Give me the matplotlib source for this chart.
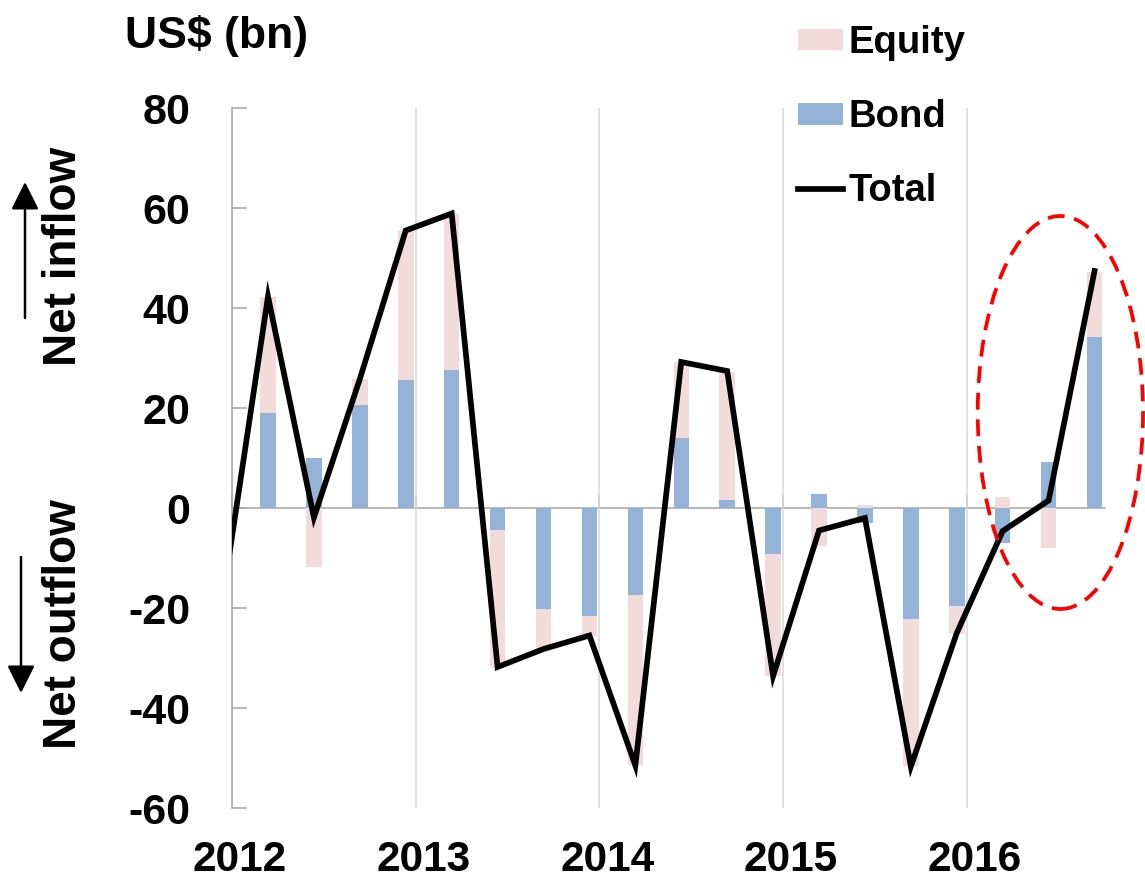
import matplotlib
matplotlib.use("Agg")
import matplotlib.pyplot as plt
from matplotlib.patches import Ellipse, FancyArrowPatch
from matplotlib.transforms import ScaledTranslation
import numpy as np

plt.rcParams['font.family'] = ['Liberation Sans', 'DejaVu Sans']
plt.rcParams['font.weight'] = 'bold'

# ---- data ----
quarters = ['2012Q1', '2012Q2', '2012Q3', '2012Q4',
            '2013Q1', '2013Q2', '2013Q3', '2013Q4',
            '2014Q1', '2014Q2', '2014Q3', '2014Q4',
            '2015Q1', '2015Q2', '2015Q3', '2015Q4',
            '2016Q1', '2016Q2', '2016Q3']
bond = [19.0, 10.1, 20.7, 25.6, 27.6, -4.4, -20.2, -21.6, -17.4, 14.1,
        1.6, -9.1, 2.8, -2.9, -22.2, -19.6, -6.9, 9.3, 34.3]
equity = [23.3, -11.8, 5.1, 29.9, 31.3, -27.4, -7.9, -4.0, -34.0, 15.1,
          25.6, -24.4, -7.5, 0.6, -29.4, -5.6, 2.2, -7.9, 13.0]
total_quarters = ['2011Q4'] + quarters
total = [-19.0, 42.3, -1.9, 25.8, 55.5, 58.9, -31.8, -28.2, -25.5, -51.5,
         29.2, 27.4, -33.6, -4.5, -2.0, -51.7, -25.0, -4.6, 1.5, 47.4]
years = [2012, 2013, 2014, 2015, 2016]
yticks = [-60, -40, -20, 0, 20, 40, 60, 80]

EQ_COLOR = '#F2DCDB'
BOND_COLOR = '#95B3D7'
GRAY = '#A6A6A6'


def qpos(q):
    return int(q[:4]) + (int(q[-1]) - 1) * 0.25 + 0.196


x = np.array([qpos(q) for q in quarters])
xt = np.array([qpos(q) for q in total_quarters])
bond_a = np.array(bond)
eq_a = np.array(equity)
eq_bottom = np.where(np.sign(eq_a) == np.sign(bond_a), bond_a, 0.0)

W, H = 1145, 882
fig = plt.figure(figsize=(W / 100, H / 100), dpi=100)
ax = fig.add_axes([232 / W, 74 / H, (1105 - 232) / W, 700 / H])

bw = 0.0844
ax.bar(x, bond_a, width=bw, color=BOND_COLOR, zorder=2, label='Bond')
ax.bar(x, eq_a, width=bw, bottom=eq_bottom, color=EQ_COLOR, zorder=2, label='Equity')
ax.plot(xt, total, color='black', lw=4.1, solid_joinstyle='miter', zorder=4, label='Total')

ax.set_xlim(2012, 2016.753)
ax.set_ylim(-60, 80)

# spines
for s in ['top', 'right', 'bottom']:
    ax.spines[s].set_visible(False)
ax.spines['left'].set_color(GRAY)
ax.spines['left'].set_linewidth(1.1)

# y ticks
ax.set_yticks(yticks)
ax.set_yticklabels([str(v) for v in yticks])
ax.tick_params(axis='y', direction='in', length=10.8, width=1.1, color=GRAY,
               labelsize=31, pad=30)

# x ticks (labels at bottom)
ax.set_xticks(years)
ax.set_xticklabels([str(y) for y in years])
ax.tick_params(axis='x', length=0, labelsize=30.5, pad=23)
for lab in ax.get_xticklabels():
    lab.set_transform(lab.get_transform() + ScaledTranslation(8 / 100, 0, fig.dpi_scale_trans))
for lab in ax.get_xticklabels() + ax.get_yticklabels():
    lab.set_fontweight('bold')

ax.grid(axis='x', color='#D9D9D9', lw=1.1, zorder=0)
ax.set_axisbelow(True)

# zero axis line with upward ticks
loc0 = (0 - (-60)) / 140
sec = ax.secondary_xaxis(loc0)
sec.set_xticks(years)
sec.tick_params(axis='x', direction='in', length=9.4, width=1.1, color=GRAY,
                labelbottom=False)
sec.spines['bottom'].set_color(GRAY)
sec.spines['bottom'].set_linewidth(1.1)

# highlight ellipse
ell = Ellipse((2016.51, 19.1), width=0.90, height=78.6, fill=False,
              edgecolor='#FF0000', lw=2.7, linestyle=(0, (4.5, 2.6)), clip_on=False, zorder=5)
ax.add_patch(ell)

# legend
handles, labels = ax.get_legend_handles_labels()
order = [labels.index('Equity'), labels.index('Bond'), labels.index('Total')]
leg = fig.legend([handles[i] for i in order], [labels[i] for i in order],
                 loc='upper left', bbox_to_anchor=(798 / W, (H - 25) / H),
                 frameon=False, borderpad=0, borderaxespad=0,
                 handlelength=1.18, handleheight=0.5, handletextpad=0.15,
                 labelspacing=1.0, prop={'size': 27.5, 'weight': 'bold'})

# titles / side labels
fig.text(125 / W, (H - 48) / H, 'US$ (bn)', fontsize=32, fontweight='bold',
         ha='left', va='baseline')
fig.text(64 / W, (H - 256) / H, 'Net inflow', fontsize=33, fontweight='bold',
         rotation=90, ha='center', va='center')
fig.text(64 / W, (H - 624) / H, 'Net outflow', fontsize=33, fontweight='bold',
         rotation=90, ha='center', va='center')

arrow_kw = dict(arrowstyle='-|>,head_length=1.3,head_width=0.65', lw=1.8,
                color='black', mutation_scale=13, shrinkA=0, shrinkB=0)
fig.add_artist(FancyArrowPatch((25 / W, (H - 318) / H), (25 / W, (H - 182) / H),
                               transform=fig.transFigure, **arrow_kw))
fig.add_artist(FancyArrowPatch((21 / W, (H - 557) / H), (21 / W, (H - 693) / H),
                               transform=fig.transFigure, **arrow_kw))

fig.savefig('out.png', dpi=100)
